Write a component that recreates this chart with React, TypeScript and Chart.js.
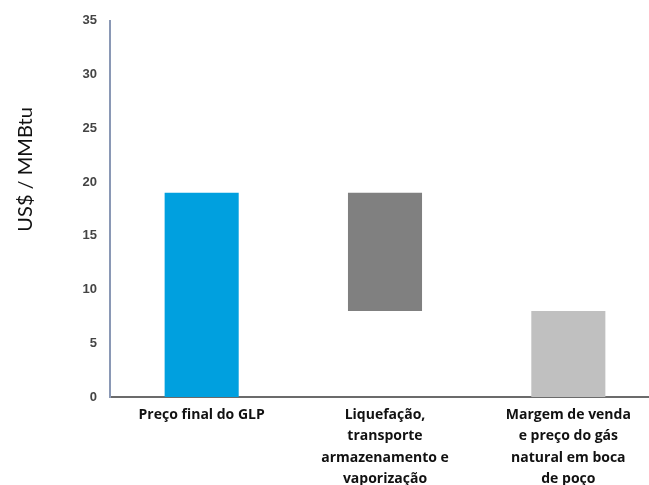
import React, { useEffect, useRef } from "react";
import { Chart, registerables } from "chart.js";

Chart.register(...registerables);

const categories: string[][] = [
  ["Preço final do GLP"],
  ["Liquefação,", "transporte", "armazenamento e", "vaporização"],
  ["Margem de venda", "e preço do gás", "natural em boca", "de poço"],
];
const barStart: number[] = [0, 8, 0];
const barEnd: number[] = [19, 19, 8];
const barColors: string[] = ["#00a0df", "#808080", "#c0c0c0"];
const yTicks: number[] = [0, 5, 10, 15, 20, 25, 30, 35];
const yTitle = "US$ / MMBtu";

// Vertical axis title, set a little above the middle of the value axis.
const yTitlePlugin = {
  id: "yTitleRaised",
  afterDraw(chart: any) {
    const { ctx, chartArea } = chart;
    const cy = chartArea.top + (chartArea.bottom - chartArea.top) * 0.395;
    ctx.save();
    ctx.translate(26, cy);
    ctx.rotate(-Math.PI / 2);
    ctx.font = "20px Lato";
    ctx.fillStyle = "#111111";
    ctx.textAlign = "center";
    ctx.textBaseline = "middle";
    ctx.fillText(yTitle, 0, 0);
    ctx.restore();
  },
};

export default function App() {
  const canvasRef = useRef<HTMLCanvasElement | null>(null);

  useEffect(() => {
    const canvas = canvasRef.current;
    if (!canvas) return;
    const chart = new Chart(canvas, {
      type: "bar",
      data: {
        labels: categories,
        datasets: [
          {
            data: barStart.map((s, i) => [s, barEnd[i]]),
            backgroundColor: barColors,
            borderWidth: 0,
            categoryPercentage: 1,
            barPercentage: 0.404,
          },
        ],
      },
      options: {
        animation: false,
        responsive: false,
        maintainAspectRatio: false,
        layout: { padding: { top: 16, left: 0, right: 0, bottom: 0 } },
        plugins: {
          legend: { display: false },
          tooltip: { enabled: false },
        },
        scales: {
          x: {
            grid: { display: false, drawTicks: false },
            border: { display: true, color: "#6b6b6b", width: 2 },
            ticks: {
              padding: 7,
              maxRotation: 0,
              autoSkip: false,
              color: "#111111",
              font: { family: "Open Sans", size: 14, weight: "bold", lineHeight: 1.54 },
            },
            afterFit: (scale: any) => {
              scale.height = 88;
            },
          },
          y: {
            min: 0,
            max: 35,
            grid: { display: false, drawTicks: false },
            border: { display: true, color: "#8a98b5", width: 2 },
            afterBuildTicks: (scale: any) => {
              scale.ticks = yTicks.map((v) => ({ value: v }));
            },
            ticks: {
              padding: 13,
              color: "#444444",
              font: { family: "Liberation Sans", size: 13, weight: "bold" },
            },
            afterFit: (scale: any) => {
              scale.width = 110;
            },
          },
        },
      },
      plugins: [yTitlePlugin],
    });
    return () => chart.destroy();
  }, []);

  return (
    <div
      style={{
        position: "absolute",
        left: 0,
        top: 0,
        width: 649,
        height: 485,
        overflow: "hidden",
        background: "#ffffff",
      }}
    >
      <canvas ref={canvasRef} width={660} height={485} style={{ width: 660, height: 485 }} />
    </div>
  );
}
